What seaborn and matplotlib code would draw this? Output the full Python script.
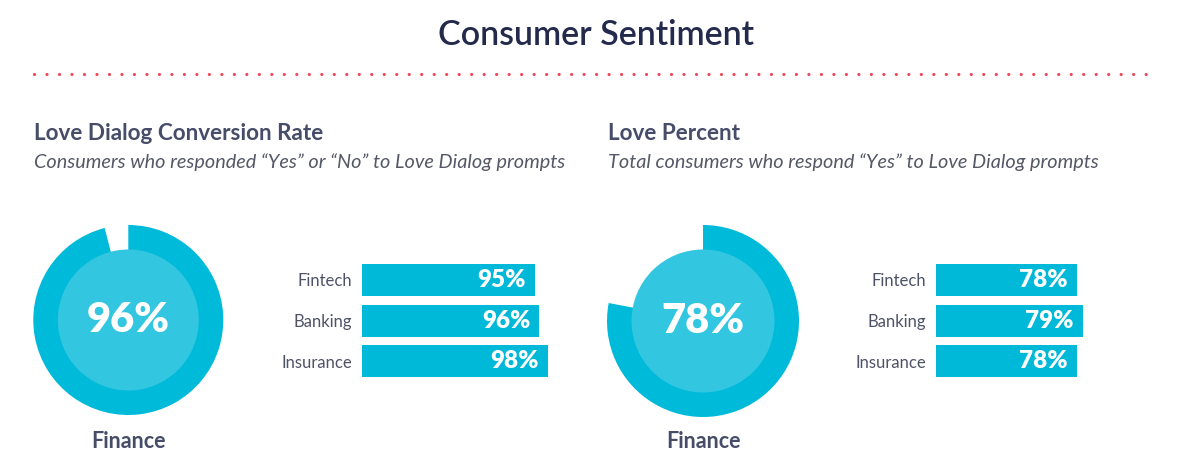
import matplotlib
matplotlib.use("Agg")
import matplotlib.pyplot as plt
import seaborn as sns
import pandas as pd
from matplotlib.lines import Line2D
from matplotlib.patches import Circle

# ---- data ----
title = "Consumer Sentiment"
panel_titles = ["Love Dialog Conversion Rate", "Love Percent"]
panel_subtitles = ["Consumers who responded \u201cYes\u201d or \u201cNo\u201d to Love Dialog prompts",
                   "Total consumers who respond \u201cYes\u201d to Love Dialog prompts"]
donut_label = "Finance"
finance_values = [96, 78]
categories = ["Fintech", "Banking", "Insurance"]
conversion_values = [95, 96, 98]
love_values = [78, 79, 78]

# ---- style ----
sns.set_theme(style="white")
plt.rcParams["font.family"] = ["Lato", "DejaVu Sans"]

RING = "#00BAD9"
INNER = "#33C6E1"
BAR = "#00B9D9"
TITLE_C = "#232A4B"
HEAD_C = "#474C68"
SUB_C = "#555866"
TICK_C = "#4F5368"
DOT_C = "#F0475A"

W, H = 1192, 466
fig = plt.figure(figsize=(W / 100, H / 100), dpi=100)
fig.patch.set_facecolor("white")


def px_axes(left, top, width, height):
    return fig.add_axes([left / W, 1 - (top + height) / H, width / W, height / H])


# title
fig.text(596 / W, 1 - 35 / H, title, ha="center", va="center",
         fontsize=24.5, color=TITLE_C, fontweight="semibold")

# dotted separator
fig.add_artist(Line2D([34 / W, 1158 / W], [1 - 74 / H, 1 - 74 / H],
                      transform=fig.transFigure, color=DOT_C, linewidth=2.3,
                      linestyle=(0, (0.01, 3.9)), dash_capstyle="round",
                      solid_capstyle="round"))

# panel headings
for x0, t, s in zip([34, 608], panel_titles, panel_subtitles):
    fig.text(x0 / W, 1 - 133 / H, t, ha="left", va="center", fontsize=16.2,
             fontweight="bold", color=HEAD_C)
    fig.text(x0 / W, 1 - 162 / H, s, ha="left", va="center", fontsize=14.3,
             fontstyle="italic", color=SUB_C)

# donuts
donut_specs = [(128.3, 320, 95, 70.5), (703, 321, 96, 71.5)]
for (cx, cy, r, ri), val in zip(donut_specs, finance_values):
    ax = px_axes(cx - r, cy - r, 2 * r, 2 * r)
    ax.pie([val, 100 - val], startangle=90, counterclock=False, radius=1,
           colors=[RING, (1, 1, 1, 0)], wedgeprops=dict(linewidth=0))
    ax.add_patch(Circle((0, 0), ri / r, color=INNER, linewidth=0, zorder=5))
    ax.text(0, 0, f"{val}%", ha="center", va="center", color="white",
            fontsize=30, fontweight="heavy", zorder=6)
    ax.set_xlim(-1, 1)
    ax.set_ylim(-1, 1)
    ax.set_aspect("equal")
    ax.axis("off")
    fig.text(cx / W, 1 - 442 / H, donut_label, ha="center", va="center",
             fontsize=15.5, fontweight="bold", color=HEAD_C)

# bar panels
bar_specs = [(362, 54.1, 4.23, conversion_values), (936, 54.55, 6.0, love_values)]
step = 40.5
for left, lo, ppu, vals in bar_specs:
    width = (100 - lo) * ppu
    ax = px_axes(left, 280 - step / 2, width, 3 * step)
    df = pd.DataFrame({"category": categories, "value": vals})
    sns.barplot(data=df, x="value", y="category", orient="h", color=BAR,
                saturation=1, width=32 / step, ax=ax, linewidth=0)
    ax.set_xlim(lo, 100)
    ax.set_ylim(2.5, -0.5)
    for i, v in enumerate(vals):
        ax.annotate(f"{v}%", xy=(v, i), xytext=(-6.5, 0),
                    textcoords="offset points", ha="right", va="center",
                    color="white", fontsize=17.5, fontweight="heavy")
    ax.set_xlabel("")
    ax.set_ylabel("")
    ax.set_xticks([])
    ax.tick_params(axis="y", length=0, pad=7, labelsize=12, labelcolor=TICK_C)
    for sp in ax.spines.values():
        sp.set_visible(False)
    ax.set_facecolor((1, 1, 1, 0))

fig.savefig("out.png", dpi=100, facecolor="white")
